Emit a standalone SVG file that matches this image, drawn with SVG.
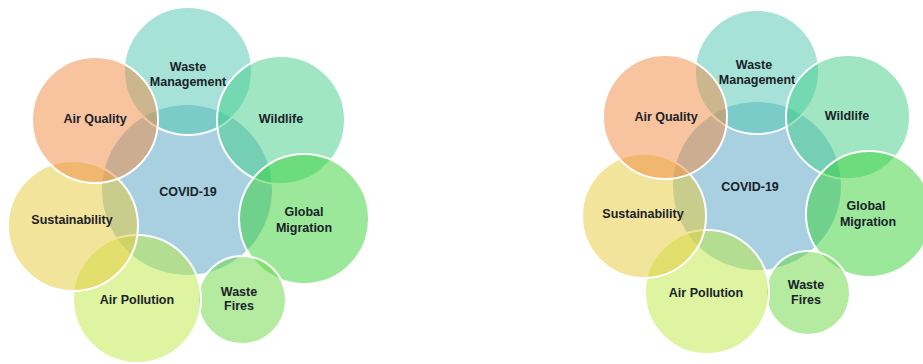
<svg xmlns="http://www.w3.org/2000/svg" width="923" height="364" viewBox="0 0 923 364">
<style>
circle{stroke:#fff;stroke-width:2;fill-opacity:0.5}
circle.center{fill:#51a1c1;stroke:none}
.wm{fill:#4dc5b1}
.wl{fill:#41cd87}
.gm{fill:#37d137}
.wf{fill:#69d741}
.ap{fill:#bde941}
.su{fill:#e7c937}
.aq{fill:#f18941}
text{font-family:"Liberation Sans",Arial,sans-serif;font-weight:bold;font-size:12.5px;fill:#1a2228;text-anchor:middle}
</style>
<rect width="923" height="364" fill="#fff"/>
<g id="left-diagram">
<g id="l-covid"><circle class="center" cx="187" cy="190" r="85"/></g>
<g id="l-waste-management"><circle class="wm" cx="188" cy="71" r="64"/></g>
<g id="l-wildlife"><circle class="wl" cx="281" cy="120" r="64"/></g>
<g id="l-global-migration"><circle class="gm" cx="304" cy="219" r="65"/></g>
<g id="l-waste-fires"><circle class="wf" cx="242" cy="300" r="44"/></g>
<g id="l-air-pollution"><circle class="ap" cx="137" cy="299" r="64"/></g>
<g id="l-sustainability"><circle class="su" cx="73" cy="226" r="65"/></g>
<g id="l-air-quality"><circle class="aq" cx="95" cy="120" r="63"/></g>
<g id="l-labels">
<text x="188" y="196">COVID-19</text>
<text x="188" y="71">Waste</text>
<text x="188" y="86">Management</text>
<text x="281" y="123">Wildlife</text>
<text x="304" y="216">Global</text>
<text x="304" y="232">Migration</text>
<text x="239" y="296">Waste</text>
<text x="239" y="310">Fires</text>
<text x="137" y="304">Air Pollution</text>
<text x="72" y="224">Sustainability</text>
<text x="95" y="123">Air Quality</text>
</g>
</g>
<g id="right-diagram">
<g id="r-covid"><circle class="center" cx="757" cy="186" r="84"/></g>
<g id="r-waste-management"><circle class="wm" cx="757" cy="72" r="62"/></g>
<g id="r-wildlife"><circle class="wl" cx="848" cy="117" r="62"/></g>
<g id="r-global-migration"><circle class="gm" cx="869" cy="214" r="63"/></g>
<g id="r-waste-fires"><circle class="wf" cx="808" cy="293" r="42"/></g>
<g id="r-air-pollution"><circle class="ap" cx="707" cy="292" r="62"/></g>
<g id="r-sustainability"><circle class="su" cx="644" cy="216" r="62"/></g>
<g id="r-air-quality"><circle class="aq" cx="665" cy="117" r="62"/></g>
<g id="r-labels">
<text x="750" y="191">COVID-19</text>
<text x="754" y="69">Waste</text>
<text x="757" y="84">Management</text>
<text x="847" y="120">Wildlife</text>
<text x="866" y="210">Global</text>
<text x="868" y="226">Migration</text>
<text x="806" y="289">Waste</text>
<text x="806" y="304">Fires</text>
<text x="706" y="297">Air Pollution</text>
<text x="643" y="218">Sustainability</text>
<text x="666" y="121">Air Quality</text>
</g>
</g>
</svg>
